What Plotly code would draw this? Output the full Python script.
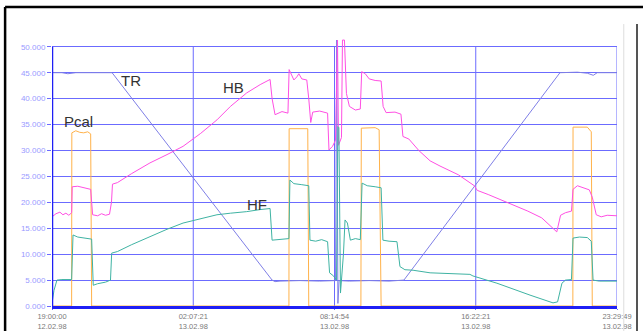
import plotly.graph_objects as go

# Time axis: hours elapsed since 19:00:00 on 12.02.98
T_END = 28.497
TICK_TIME = ["19:00:00", "02:07:21", "08:14:54", "16:22:21", "23:29:49"]
TICK_DATE = ["12.02.98", "13.02.98", "13.02.98", "13.02.98", "13.02.98"]
Y_TICKS = [0, 5, 10, 15, 20, 25, 30, 35, 40, 45, 50]
Y_LABELS = ["0.000", "5.000", "10.000", "15.000", "20.000", "25.000",
            "30.000", "35.000", "40.000", "45.000", "50.000"]

# TR
tr_t = [0, 0.5, 0.8, 1.2, 2.0, 3.03, 11.10, 11.25, 11.5, 12.5, 13.5, 14.0,
        14.3, 14.36, 14.42, 14.48, 15.0, 16.0, 17.0, 17.75, 25.62, 26.5,
        27.0, 27.3, 27.5, 28.5]
tr_v = [45.0, 45.0, 44.8, 45.0, 45.0, 45.0, 5.0, 4.7, 4.8, 4.9, 4.8, 4.9,
        4.9, 51.3, 0.5, 4.9, 4.8, 4.9, 4.8, 5.0, 45.0, 45.1,
        44.9, 44.5, 45.0, 45.0]

# HB
hb_t = [0, 0.2, 0.4, 0.55, 0.7, 0.85, 0.99, 1.02, 1.3, 1.6, 1.95, 2.05, 2.3,
        2.5, 2.7, 2.9, 3.0, 3.05, 3.3, 4.0, 4.94, 5.8, 6.61, 7.5, 8.32, 9.0,
        9.82, 10.5, 11.0, 11.1, 11.25, 11.6, 11.9, 11.96, 12.1, 12.2, 12.35,
        12.45, 12.6, 12.85, 12.95, 13.05, 13.15, 13.5, 13.9, 13.97, 14.15,
        14.3, 14.4, 14.45, 14.6, 14.65, 14.75, 14.85, 15.0, 15.3, 15.55,
        15.62, 15.8, 16.0, 16.3, 16.6, 16.7, 16.85, 17.3, 17.6, 17.7, 18.0,
        18.5, 19.07, 19.57, 20.5, 21.3, 21.45, 22.0, 23.0, 24.0, 24.7, 25.3,
        25.46, 25.65, 25.9, 26.2, 26.28, 26.5, 26.8, 27.1, 27.25, 27.45,
        27.7, 28.0, 28.5]
hb_v = [17.2, 17.8, 18.1, 17.6, 17.9, 17.5, 18.0, 23.0, 23.1, 22.8, 22.5,
        17.6, 17.4, 17.8, 17.5, 17.7, 20.0, 23.5, 23.8, 25.5, 27.6, 29.2,
        30.8, 33.3, 35.9, 38.5, 41.1, 42.7, 43.7, 40.0, 36.9, 37.5, 37.2,
        45.6, 44.5, 43.6, 44.2, 44.8, 43.8, 43.6, 40.0, 35.4, 37.4, 37.6,
        37.2, 30.1, 30.8, 32.0, 51.3, 31.0, 32.5, 51.3, 51.3, 41.0, 38.5,
        37.8, 38.0, 45.2, 44.8, 43.8, 43.5, 43.4, 38.5, 37.3, 37.4, 37.0,
        32.7, 32.2, 30.0, 28.0, 27.0, 25.3, 23.2, 22.3, 21.5, 19.9, 18.3,
        17.0, 15.0, 14.3, 17.5, 18.0, 18.3, 22.5, 23.2, 22.8, 22.4, 21.0,
        17.6, 17.2, 17.5, 17.4]

# Pcal
pc_t = [0, 0.99, 1.0, 1.2, 1.4, 1.6, 1.8, 1.95, 2.0, 11.95, 11.96, 12.9,
        12.95, 15.58, 15.6, 16.3, 16.5, 16.6, 26.27, 26.28, 27.0, 27.2,
        27.25, 28.5]
pc_v = [0, 0, 33.4, 33.8, 33.5, 33.4, 33.6, 33.2, 0, 0, 34.2, 34.2,
        0, 0, 34.3, 34.4, 34.0, 0, 0, 34.5, 34.5, 33.6,
        0, 0]

# HF
hf_t = [0, 0.1, 0.25, 0.5, 0.99, 1.06, 1.3, 1.7, 2.0, 2.08, 2.3, 2.7, 2.95,
        3.01, 3.3, 4.0, 4.94, 5.8, 6.61, 7.5, 8.32, 9.0, 9.82, 10.5, 11.0,
        11.1, 11.5, 11.95, 12.0, 12.2, 12.6, 12.95, 13.01, 13.3, 13.6, 13.9,
        14.0, 14.2, 14.35, 14.42, 14.47, 14.55, 14.7, 14.78, 14.9,
        15.05, 15.3, 15.55, 15.64, 15.9, 16.3, 16.6, 16.69, 17.0, 17.4,
        17.55, 17.8, 18.21, 19.07, 20.0, 21.08, 21.23, 22.44, 24.11, 25.27,
        25.5, 25.72, 25.9, 26.2, 26.28, 26.6, 27.0, 27.2, 27.29, 27.6, 28.5]
hf_v = [0.5, 3.0, 5.0, 5.1, 5.1, 13.7, 13.3, 13.1, 12.9, 4.0, 4.3, 4.6, 5.0,
        10.2, 10.5, 11.8, 13.4, 14.8, 16.0, 16.9, 17.6, 17.9, 18.2, 18.6,
        18.8, 12.7, 12.9, 13.0, 24.3, 23.6, 23.4, 23.2, 12.7, 12.5, 12.8,
        12.4, 6.4, 5.8, 5.0, 34.6, 34.4, 2.5, 10.0, 16.6, 16.0, 12.7,
        13.0, 12.8, 23.7, 23.2, 23.0, 22.8, 12.7, 12.5, 12.4, 7.6, 7.0, 6.9,
        6.4, 6.3, 6.1, 5.8, 4.4, 2.1, 0.6, 0.8, 4.4, 5.0, 5.1, 13.1, 13.3,
        13.2, 12.5, 5.0, 4.8, 4.8]

# Series names written next to their curves (time, value)
LABELS = ["TR", "HB", "Pcal", "HF"]
LABEL_T = [3.98, 9.13, 1.36, 10.34]
LABEL_V = [43.5, 42.2, 35.5, 19.6]

GRID = "#6b6bff"
AXIS = "#1f1ff5"

fig = go.Figure()
fig.add_trace(go.Scatter(x=tr_t, y=tr_v, mode="lines", name="TR",
                         line=dict(color="#7f7fe6", width=1)))
fig.add_trace(go.Scatter(x=pc_t, y=pc_v, mode="lines", name="Pcal",
                         line=dict(color="#ffb24a", width=1)))
fig.add_trace(go.Scatter(x=hb_t, y=hb_v, mode="lines", name="HB",
                         line=dict(color="#ff4fe3", width=1)))
fig.add_trace(go.Scatter(x=hf_t, y=hf_v, mode="lines", name="HF",
                         line=dict(color="#3fb3a3", width=1)))

for name, t, v in zip(LABELS, LABEL_T, LABEL_V):
    fig.add_annotation(x=t, y=v, text=name, showarrow=False,
                       font=dict(family="Liberation Sans", size=15, color="#333333"))

tick_pos = [T_END * i / 4 for i in range(5)]
shapes = []
# vertical grid lines, stopping at the 50.000 line
for xp in tick_pos:
    shapes.append(dict(type="line", xref="x", yref="y", x0=xp, x1=xp, y0=0, y1=50,
                       line=dict(color=GRID, width=1), layer="below"))
# left value axis
shapes.append(dict(type="line", xref="x", yref="y", x0=0, x1=0, y0=0, y1=50,
                   line=dict(color=AXIS, width=2.5), layer="above"))
# outer frame
shapes.append(dict(type="line", xref="paper", yref="paper", x0=-0.083, x1=-0.083,
                   y0=-0.2, y1=1.12, line=dict(color="#000000", width=2.5)))
shapes.append(dict(type="line", xref="paper", yref="paper", x0=-0.083, x1=1.2,
                   y0=1.12, y1=1.12, line=dict(color="#000000", width=2.5)))
shapes.append(dict(type="line", xref="paper", yref="paper", x0=1.0354, x1=1.0354,
                   y0=-0.2, y1=1.056, line=dict(color="#555555", width=2)))
shapes.append(dict(type="line", xref="paper", yref="paper", x0=1.012, x1=1.012,
                   y0=-0.2, y1=1.056, line=dict(color="#dddddd", width=1)))

fig.update_layout(
    width=643, height=331,
    margin=dict(l=52, r=26, t=39, b=25),
    paper_bgcolor="white", plot_bgcolor="white",
    showlegend=False,
    shapes=shapes,
    xaxis=dict(range=[0, T_END], tickvals=tick_pos, automargin=False,
               ticktext=[f"{a}<br>{b}" for a, b in zip(TICK_TIME, TICK_DATE)],
               showgrid=False, zeroline=False, showline=True,
               linecolor=AXIS, linewidth=2.5, ticks="outside", ticklen=1,
               tickcolor=GRID, tickfont=dict(family="Liberation Sans", size=7.5, color="#7a7a7a")),
    yaxis=dict(range=[0, 51.5], tickvals=Y_TICKS, ticktext=Y_LABELS, automargin=False,
               showgrid=True, gridcolor=GRID, gridwidth=1, zeroline=False,
               showline=False, ticks="outside", ticklen=4, tickcolor=GRID,
               tickfont=dict(family="Liberation Sans", size=8, color="#9a9aff")),
)

fig.write_html("out.html")
